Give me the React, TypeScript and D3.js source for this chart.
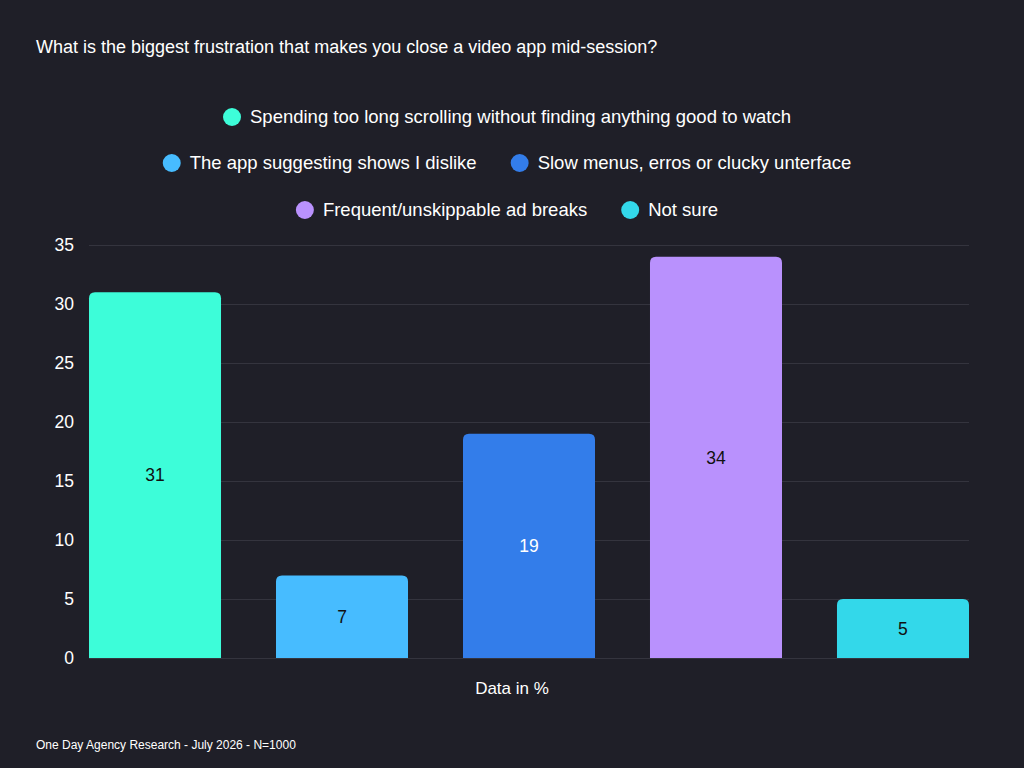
import React, { useEffect, useRef } from "react";
import * as d3 from "d3";

const categories = [
  "Spending too long scrolling without finding anything good to watch",
  "The app suggesting shows I dislike",
  "Slow menus, erros or clucky unterface",
  "Frequent/unskippable ad breaks",
  "Not sure",
];
const values = [31, 7, 19, 34, 5];
const colors = ["#3dfdd9", "#47bcff", "#337dea", "#b991fd", "#33d8ea"];
const labelColors = ["#111111", "#111111", "#ffffff", "#111111", "#111111"];
const yTicks = [0, 5, 10, 15, 20, 25, 30, 35];
const legendRows = [[0], [1, 2], [3, 4]];

const title = "What is the biggest frustration that makes you close a video app mid-session?";
const xAxisTitle = "Data in %";
const footer = "One Day Agency Research - July 2026 - N=1000";

const W = 1024;
const H = 768;
const FONT = "'Liberation Sans', Arial, Helvetica, sans-serif";
const BG = "#1f1f28";

export default function App() {
  const ref = useRef<SVGSVGElement | null>(null);

  useEffect(() => {
    const svg = d3.select(ref.current);
    svg.selectAll("*").remove();

    svg.append("rect").attr("width", W).attr("height", H).attr("fill", BG);

    svg
      .append("text")
      .attr("x", 36)
      .attr("y", 47)
      .attr("dy", "0.35em")
      .attr("fill", "#ffffff")
      .attr("font-size", 18)
      .attr("font-family", FONT)
      .text(title);

    // legend, each row centred
    const legendCenter = 507;
    const rowY = [117, 163, 210];
    const r = 9;
    legendRows.forEach((row, ri) => {
      const g = svg.append("g");
      let x = 0;
      row.forEach((ci, k) => {
        if (k > 0) x += 34;
        g.append("circle")
          .attr("cx", x + r)
          .attr("cy", rowY[ri])
          .attr("r", r)
          .attr("fill", colors[ci]);
        const t = g
          .append("text")
          .attr("x", x + 2 * r + 9)
          .attr("y", rowY[ri])
          .attr("dy", "0.35em")
          .attr("fill", "#ffffff")
          .attr("font-size", 18.5)
          .attr("font-family", FONT)
          .text(categories[ci]);
        const w = (t.node() as SVGTextElement).getComputedTextLength();
        x += 2 * r + 9 + w;
      });
      g.attr("transform", `translate(${legendCenter - x / 2},0)`);
    });

    const x0 = 89;
    const x1 = 969;
    const yScale = d3.scaleLinear().domain([0, 35]).range([658, 245]);
    const xScale = d3
      .scaleBand<number>()
      .domain(d3.range(categories.length))
      .range([x0, x1])
      .paddingInner(0.294)
      .paddingOuter(0);

    // gridlines
    svg
      .append("g")
      .selectAll("line")
      .data(yTicks)
      .join("line")
      .attr("x1", x0)
      .attr("x2", x1)
      .attr("y1", (d) => yScale(d) + 0.5)
      .attr("y2", (d) => yScale(d) + 0.5)
      .attr("stroke", "#34343e")
      .attr("stroke-width", 1);

    // y tick labels
    svg
      .append("g")
      .selectAll("text")
      .data(yTicks)
      .join("text")
      .attr("x", 74)
      .attr("y", (d) => yScale(d))
      .attr("dy", "0.35em")
      .attr("text-anchor", "end")
      .attr("fill", "#ffffff")
      .attr("font-size", 17.5)
      .attr("font-family", FONT)
      .text((d) => String(d));

    // bars with rounded top corners
    const rad = 6;
    const barPath = (i: number) => {
      const bx = xScale(i)!;
      const bw = xScale.bandwidth();
      const top = yScale(values[i]);
      const bottom = yScale(0);
      return `M${bx},${bottom}V${top + rad}Q${bx},${top} ${bx + rad},${top}H${bx + bw - rad}Q${bx + bw},${top} ${bx + bw},${top + rad}V${bottom}Z`;
    };
    svg
      .append("g")
      .selectAll("path")
      .data(values.map((_, i) => i))
      .join("path")
      .attr("d", (i) => barPath(i))
      .attr("fill", (i) => colors[i]);

    // value labels
    svg
      .append("g")
      .selectAll("text")
      .data(values.map((_, i) => i))
      .join("text")
      .attr("x", (i) => xScale(i)! + xScale.bandwidth() / 2)
      .attr("y", (i) => (yScale(values[i]) + yScale(0)) / 2)
      .attr("dy", "0.35em")
      .attr("text-anchor", "middle")
      .attr("fill", (i) => labelColors[i])
      .attr("font-size", 17.5)
      .attr("font-family", FONT)
      .text((i) => String(values[i]));

    svg
      .append("text")
      .attr("x", 512)
      .attr("y", 688)
      .attr("dy", "0.35em")
      .attr("text-anchor", "middle")
      .attr("fill", "#ffffff")
      .attr("font-size", 17)
      .attr("font-family", FONT)
      .text(xAxisTitle);

    svg
      .append("text")
      .attr("x", 36)
      .attr("y", 745)
      .attr("dy", "0.35em")
      .attr("fill", "#ffffff")
      .attr("font-size", 12)
      .attr("font-family", FONT)
      .text(footer);
  }, []);

  return (
    <svg
      ref={ref}
      width={W}
      height={H}
      style={{ position: "absolute", left: 0, top: 0, display: "block" }}
    />
  );
}
